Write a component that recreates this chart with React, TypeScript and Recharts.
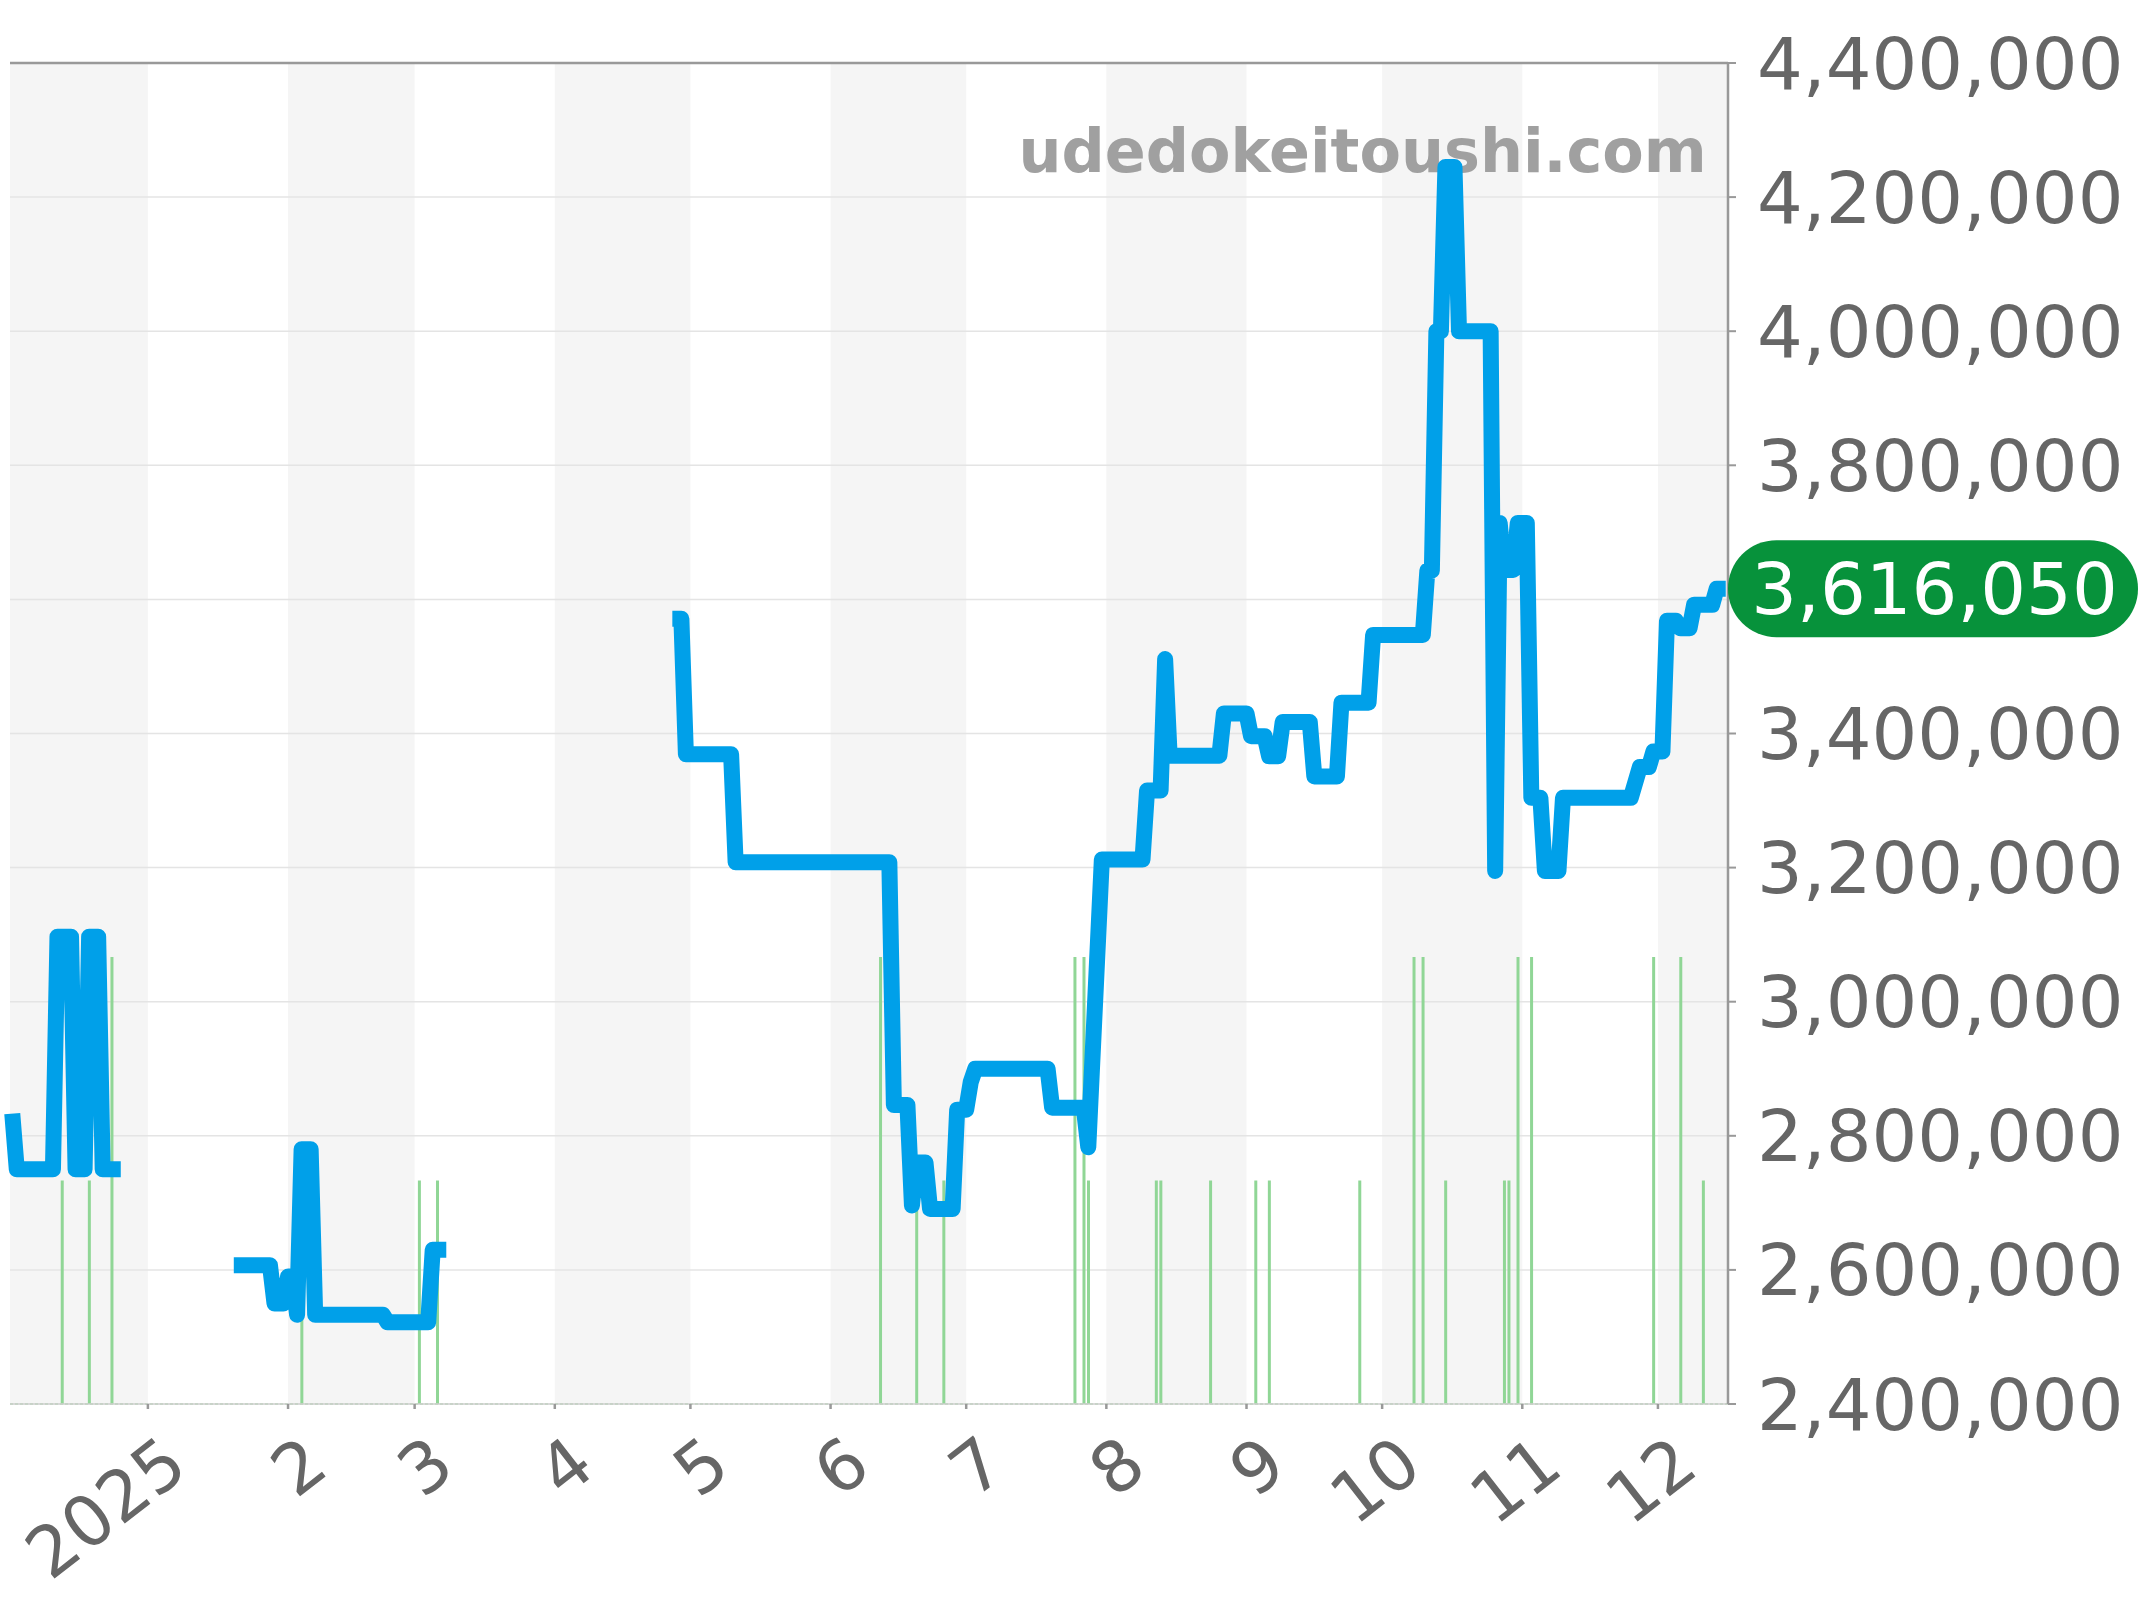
import React from 'react';
import { ComposedChart, Bar, Line, XAxis, YAxis, CartesianGrid, ReferenceArea, ReferenceLine, ReferenceDot } from 'recharts';

const X_MIN = -30.5;
const X_MAX = 349.5;
const monthStarts = [0, 31, 59, 90, 120, 151, 181, 212, 243, 273, 304, 334];
const monthLabels = ['2025', '2', '3', '4', '5', '6', '7', '8', '9', '10', '11', '12'];
const priceTicks = [2400000, 2600000, 2800000, 3000000, 3200000, 3400000, 3800000, 4000000, 4200000, 4400000];
const gridValues = [2600000, 2800000, 3000000, 3200000, 3400000, 3600000, 3800000, 4000000, 4200000];

const bandStarts = [X_MIN, 31, 90, 151, 212, 273, 334];
const bandEnds = [0, 59, 120, 181, 243, 304, X_MAX];

const priceDays = [
  -30, -29, -21, -20, -17, -16, -14, -13, -11, -10, -6, -5,
  19, 27, 28, 30, 31, 32, 33, 34, 36, 37, 52, 53, 62, 63, 66, 67,
  116, 118, 119, 129, 130, 164, 165, 168, 169, 170, 172, 173, 178, 179, 181, 182, 183, 199, 200, 207, 208, 211,
  220, 221, 224, 225, 226, 237, 238, 243, 244, 247, 248, 250, 251, 257, 258, 263, 264, 270, 271, 282, 283, 284,
  285, 286, 287, 289, 290, 297, 298, 299, 300, 302, 303, 305, 306, 308, 309, 312, 313, 328, 330, 332, 333, 335,
  336, 338, 339, 341, 342, 346, 347, 349,
];
const priceValues = [
  2833000, 2750000, 2750000, 3097000, 3097000, 2750000, 2750000, 3097000, 3097000, 2750000, 2750000, null,
  2607000, 2607000, 2550000, 2550000, 2590000, 2590000, 2533000, 2780000, 2780000, 2533000, 2533000, 2522000, 2522000, 2630000, 2630000, null,
  3571000, 3571000, 3369000, 3369000, 3208000, 3208000, 2846000, 2846000, 2696000, 2760000, 2760000, 2691000, 2691000, 2839000, 2839000, 2880000, 2900000, 2900000, 2842000, 2842000, 2783000, 3212000,
  3212000, 3315000, 3315000, 3511000, 3367000, 3367000, 3430000, 3430000, 3396000, 3396000, 3366000, 3366000, 3417000, 3417000, 3336000, 3336000, 3446000, 3446000, 3547000, 3547000, 3643000, 3643000,
  4000000, 4000000, 4245000, 4245000, 4000000, 4000000, 3195000, 3714000, 3644000, 3644000, 3714000, 3714000, 3304000, 3304000, 3195000, 3195000, 3304000, 3304000, 3350000, 3350000, 3373000, 3373000,
  3568000, 3568000, 3557000, 3557000, 3592000, 3592000, 3616050, 3616050,
];

const volDays = [-19, -13, -8, 34, 60, 64, 162, 170, 176, 205, 207, 208, 223, 224, 235, 245, 248, 268, 280, 282, 287, 300, 301, 303, 306, 333, 339, 344];
const volCounts = [1, 1, 2, 1, 1, 1, 2, 1, 1, 2, 2, 1, 1, 1, 1, 1, 1, 1, 2, 2, 1, 1, 1, 2, 2, 2, 2, 1];

const lastPrice = 3616050;
const watermark = 'udedokeitoushi.com';

const priceData = priceDays.map((day, i) => ({ day, price: priceValues[i] }));
const volData = volDays.map((day, i) => ({ day, vol: volCounts[i] }));

const FONT = '"DejaVu Sans", sans-serif';
const fmt = (v: number) => v.toLocaleString('en-US');

const MonthTick = (props: any) => {
  const { x, y, payload } = props;
  const label = monthLabels[monthStarts.indexOf(payload.value)];
  const ex = x + 43;
  const ey = y + 63;
  return (
    <text x={ex} y={ey} transform={`rotate(-38 ${ex} ${ey})`} textAnchor="end" fontFamily={FONT} fontSize={70} fill="#666666">
      {label}
    </text>
  );
};

const Pill = (props: any) => {
  const { cx, cy } = props;
  return (
    <g>
      <rect x={cx} y={cy - 48.5} width={410} height={97} rx={48.5} ry={48.5} fill="#07923b" />
      <text x={cx + 206.5} y={cy + 25} textAnchor="middle" fontFamily={FONT} fontSize={72} fill="#ffffff">
        {fmt(lastPrice)}
      </text>
    </g>
  );
};

const Watermark = (props: any) => (
  <text x={props.x + props.width} y={props.y + props.height} textAnchor="end" fontFamily={FONT} fontWeight="bold" fontSize={60.4} fill="#a0a0a0">
    {watermark}
  </text>
);

export default function App() {
  return (
    <div style={{ position: 'absolute', left: 0, top: 0, width: 2144, height: 1600, background: '#fff' }}>
      <ComposedChart width={2144} height={1600} data={volData} margin={{ left: 10, top: 63, right: 0, bottom: 0 }}>
        {bandStarts.map((s, i) => (
          <ReferenceArea key={s} zIndex={-150} x1={s} x2={bandEnds[i]} yAxisId="price" fill="#f5f5f5" fillOpacity={1} stroke="none" />
        ))}
        <CartesianGrid horizontal vertical={false} yAxisId="price" horizontalValues={gridValues} syncWithTicks={false} stroke="#e4e4e4" strokeWidth={1.5} />
        <XAxis
          dataKey="day"
          type="number"
          domain={[X_MIN, X_MAX]}
          ticks={monthStarts}
          interval={0}
          height={196}
          tick={<MonthTick />}
          tickSize={5}
          tickMargin={0}
          tickLine={{ stroke: '#999999', strokeWidth: 2.5 }}
          axisLine={{ stroke: '#cccccc', strokeWidth: 1.5 }}
        />
        <YAxis
          yAxisId="price"
          orientation="right"
          width={416}
          domain={[2400000, 4400000]}
          ticks={priceTicks}
          interval={0}
          tickFormatter={fmt}
          tick={{ fontFamily: FONT, fontSize: 72, fill: '#666666' }}
          tickSize={8}
          tickMargin={21}
          tickLine={{ stroke: '#999999', strokeWidth: 2 }}
          axisLine={{ stroke: '#999999', strokeWidth: 2.5 }}
        />
        <YAxis yAxisId="vol" hide domain={[0, 6]} />
        <ReferenceLine yAxisId="price" y={4400000} stroke="#999999" strokeWidth={2.5} />
        <ReferenceLine yAxisId="vol" y={0} stroke="#a5dda5" strokeWidth={1.5} strokeDasharray="3 2" />
        <ReferenceArea yAxisId="price" zIndex={-50} x1={150} x2={344.8} y1={4238000} y2={4400000} shape={<Watermark />} />
        <Bar yAxisId="vol" dataKey="vol" barSize={3} fill="#90d696" isAnimationActive={false} />
        <Line
          yAxisId="price"
          data={priceData}
          dataKey="price"
          type="linear"
          stroke="#00a0e9"
          strokeWidth={16}
          strokeLinejoin="round"
          dot={false}
          activeDot={false}
          connectNulls={false}
          isAnimationActive={false}
        />
        <ReferenceDot yAxisId="price" x={X_MAX} y={lastPrice} ifOverflow="visible" shape={<Pill />} />
      </ComposedChart>
    </div>
  );
}
